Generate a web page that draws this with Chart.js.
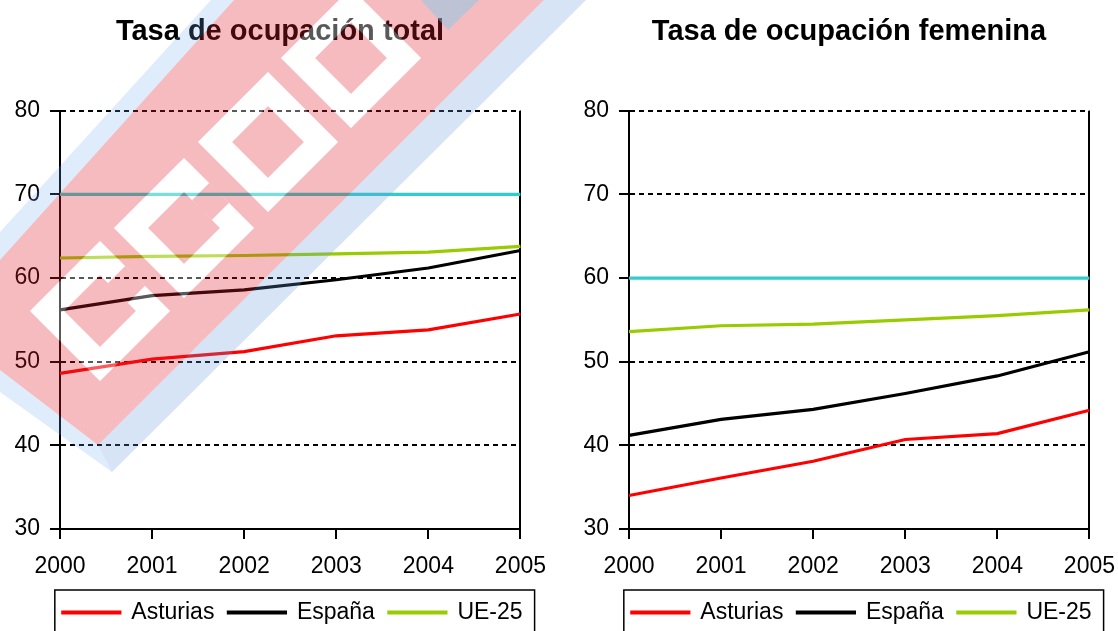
<!DOCTYPE html>
<html lang="es">
<head>
<meta charset="utf-8">
<title>Tasa de ocupación</title>
<script src="https://cdn.jsdelivr.net/npm/chart.js@4.4.1/dist/chart.umd.min.js"></script>
<style>
  html, body { margin: 0; padding: 0; background: #fff; overflow: hidden; width: 1118px; height: 631px; }
  #total { position: absolute; left: 0; top: 0; }
  #femenina { position: absolute; left: 569px; top: 0; }
  #marca { position: absolute; left: 0; top: 0; pointer-events: none; }
</style>
</head>
<body>
<canvas id="total" width="560" height="631"></canvas>
<canvas id="femenina" width="560" height="631"></canvas>
<canvas id="marca" width="1118" height="631"></canvas>
<script>
// datos
const years = ['2000', '2001', '2002', '2003', '2004', '2005'];
const yTicks = [30, 40, 50, 60, 70, 80];

const asturiasTotal = [48.6, 50.3, 51.2, 53.1, 53.8, 55.7];
const espanaTotal   = [56.2, 57.9, 58.6, 59.8, 61.2, 63.3];
const ue25Total     = [62.4, 62.6, 62.7, 62.9, 63.1, 63.8];
const objetivoTotal = [70, 70, 70, 70, 70, 70];

const asturiasFem = [34.0, 36.1, 38.1, 40.7, 41.4, 44.2];
const espanaFem   = [41.2, 43.1, 44.3, 46.2, 48.3, 51.2];
const ue25Fem     = [53.6, 54.3, 54.5, 55.0, 55.5, 56.2];
const objetivoFem = [60, 60, 60, 60, 60, 60];

Chart.defaults.font.family = "'Liberation Sans', Arial, sans-serif";
Chart.defaults.color = '#000';

// recuadro de la leyenda, como en el original
const legendBox = {
  id: 'legendBox',
  afterLayout(chart) {
    const lg = chart.legend, ca = chart.chartArea;
    const shift = (ca.left + ca.right) / 2 + 2.5 - (lg.left + lg.right) / 2;
    lg.left += shift;
    lg.right += shift;
  },
  afterDraw(chart) {
    const lg = chart.legend;
    const pad = lg.options.labels.padding;
    const w = lg.lineWidths[0] - pad;
    const x0 = (lg.left + lg.right) / 2 - w / 2;
    const ctx = chart.ctx;
    ctx.save();
    ctx.strokeStyle = '#000';
    ctx.lineWidth = 1.5;
    ctx.strokeRect(x0 - 8, 590, w + 20, 60);
    ctx.restore();
  }
};

function serie(label, data, color) {
  return {
    label: label,
    data: data,
    borderColor: color,
    backgroundColor: color,
    borderWidth: 3.2,
    pointRadius: 0,
    tension: 0
  };
}

function makeChart(id, title, ast, esp, ue, obj) {
  return new Chart(document.getElementById(id), {
    type: 'line',
    data: {
      labels: years,
      datasets: [
        serie('Objetivo', obj, '#33CCCC'),
        serie('Asturias', ast, '#FF0000'),
        serie('España', esp, '#000000'),
        serie('UE-25', ue, '#99CC00')
      ]
    },
    options: {
      responsive: false,
      animation: false,
      layout: { padding: { bottom: -3 } },
      plugins: {
        title: {
          display: true,
          text: title,
          font: { size: 29, weight: 'bold' },
          color: '#000',
          padding: { top: 15, bottom: 61 }
        },
        legend: {
          position: 'bottom',
          labels: {
            filter: item => item.text !== 'Objetivo',
            boxWidth: 57,
            boxHeight: 1,
            padding: 14,
            font: { size: 23, lineHeight: 1 },
            color: '#000'
          }
        },
        tooltip: { enabled: false }
      },
      scales: {
        x: {
          offset: false,
          afterFit: s => { s.height = 58; },
          grid: {
            color: c => c.index === years.length - 1 ? '#000' : 'rgba(0,0,0,0)',
            lineWidth: 2,
            tickColor: '#000',
            tickWidth: 2,
            tickLength: 10
          },
          border: { display: true, color: '#000', width: 2 },
          ticks: { font: { size: 23 }, color: '#000', padding: 14, maxRotation: 0 }
        },
        y: {
          min: yTicks[0],
          max: yTicks[yTicks.length - 1],
          afterFit: s => { s.width = 60; },
          afterBuildTicks: s => { s.ticks = yTicks.map(v => ({ value: v })); },
          grid: {
            color: '#000',
            lineWidth: 2,
            tickColor: '#000',
            tickWidth: 2,
            tickLength: 10
          },
          border: { display: true, color: '#000', width: 2, dash: [5, 4] },
          ticks: { font: { size: 23 }, color: '#000', padding: 10 }
        },
        yR: {
          position: 'right',
          afterFit: s => { s.width = 39; },
          grid: { display: false },
          border: { display: false },
          ticks: { display: false }
        }
      }
    },
    plugins: [legendBox]
  });
}

makeChart('total', 'Tasa de ocupación total', asturiasTotal, espanaTotal, ue25Total, objetivoTotal);
makeChart('femenina', 'Tasa de ocupación femenina', asturiasFem, espanaFem, ue25Fem, objetivoFem);

// marca de agua del logotipo, encima de todo y semitransparente
function drawMarca() {
  const ctx = document.getElementById('marca').getContext('2d');
  function poly(pts) {
    ctx.moveTo(pts[0][0], pts[0][1]);
    for (let i = 1; i < pts.length; i++) ctx.lineTo(pts[i][0], pts[i][1]);
    ctx.closePath();
  }
  const azul = [[211, 0], [586, 0], [112, 472], [0, 392], [0, 232]];
  const roja = [[234, 0], [544, 0], [98, 445], [0, 370], [0, 260]];

  // bordes azul claro (solo fuera de la banda roja)
  ctx.beginPath();
  poly(azul);
  poly(roja);
  ctx.fillStyle = 'rgba(110,170,235,0.22)';
  ctx.fill('evenodd');
  // sombra a la derecha
  ctx.beginPath();
  poly([[544, 0], [586, 0], [112, 472], [98, 445]]);
  ctx.fillStyle = 'rgba(80,110,160,0.06)';
  ctx.fill();

  // banda roja con las letras CCOO caladas
  const letras = [[100, 311, true], [184, 228, true], [268, 142, false], [351, 58, false]];
  const R = 70, r = 36, g = 14;
  function letrasPath() {
    letras.forEach(([cx, cy, esC]) => {
      poly([[cx - R, cy], [cx, cy - R], [cx + R, cy], [cx, cy + R]]);
      poly([[cx - r, cy], [cx, cy - r], [cx + r, cy], [cx, cy + r]]);
      if (esC) {
        const ox = cx + R / 2, oy = cy - R / 2, ix = cx + r / 2, iy = cy - r / 2, d = g * 0.7071;
        poly([[ox - d, oy - d], [ox + d, oy + d], [ix + d, iy + d], [ix - d, iy - d]]);
      }
    });
  }
  ctx.beginPath();
  poly(roja);
  letrasPath();
  ctx.fillStyle = 'rgba(225,30,40,0.3)';
  ctx.fill('evenodd');

  // letras blancas
  ctx.beginPath();
  letrasPath();
  ctx.fillStyle = 'rgba(255,255,255,0.35)';
  ctx.fill('evenodd');

  // triangulo celeste arriba
  ctx.beginPath();
  poly([[421, 0], [479, 0], [448, 30]]);
  ctx.fillStyle = 'rgba(120,205,240,0.45)';
  ctx.fill();
}
drawMarca();
</script>
</body>
</html>
